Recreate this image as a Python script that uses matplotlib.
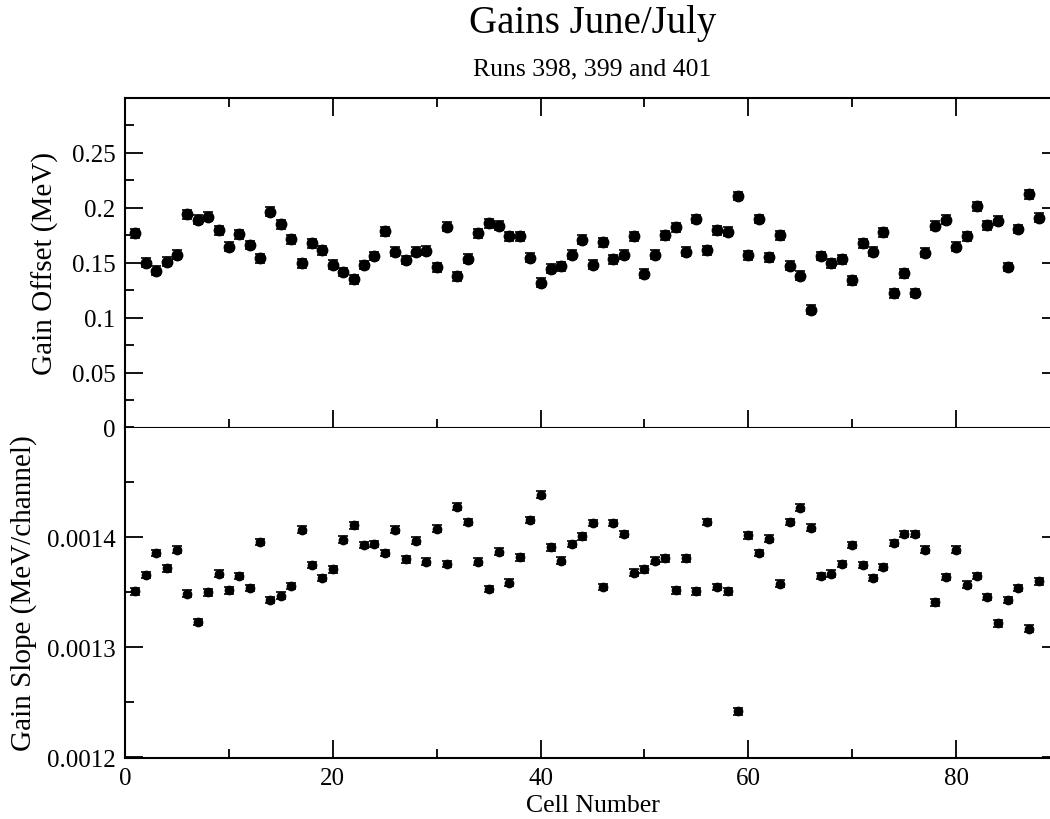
import numpy as np
import matplotlib
matplotlib.use("Agg")
import matplotlib.pyplot as plt
from matplotlib.ticker import MultipleLocator

plt.rcParams['font.family'] = ['Liberation Serif', 'DejaVu Serif']

cells = list(range(1, 89))

gain_offset = [
    0.1767, 0.150, 0.1426, 0.1508, 0.157, 0.194, 0.189, 0.1916, 0.1794, 0.1645,
    0.1758, 0.166, 0.154, 0.1962, 0.1846, 0.171, 0.1493, 0.1673, 0.161, 0.148,
    0.1414, 0.1347, 0.1478, 0.156, 0.1785, 0.160, 0.1523, 0.1597, 0.1606, 0.1457,
    0.1825, 0.1375, 0.1533, 0.1767, 0.1858, 0.1834, 0.1737, 0.1737, 0.1542, 0.1317,
    0.1445, 0.1466, 0.157, 0.1706, 0.148, 0.1682, 0.153, 0.157, 0.1737, 0.140,
    0.157, 0.1746, 0.1819, 0.160, 0.1895, 0.1612, 0.1791, 0.1779, 0.2105, 0.1566,
    0.1895, 0.1548, 0.1749, 0.1472, 0.138, 0.107, 0.156, 0.1493, 0.153, 0.1338,
    0.1676, 0.1597, 0.1773, 0.122, 0.1402, 0.1223, 0.1588, 0.1834, 0.1889, 0.1642,
    0.1737, 0.201, 0.1837, 0.188, 0.146, 0.1804, 0.212, 0.1907,
]

gain_slope = [
    0.001351, 0.001366, 0.001386, 0.001372, 0.001389, 0.001349, 0.001323, 0.001350, 0.001367, 0.001352,
    0.001365, 0.001354, 0.001396, 0.001343, 0.001347, 0.001356, 0.001407, 0.001375, 0.001363, 0.001371,
    0.001398, 0.001411, 0.001393, 0.001394, 0.001386, 0.001407, 0.001380, 0.001397, 0.001378, 0.001408,
    0.001376, 0.001428, 0.001414, 0.001378, 0.001353, 0.001387, 0.001359, 0.001382, 0.001416, 0.001439,
    0.001391, 0.001379, 0.001394, 0.001401, 0.001413, 0.001355, 0.001413, 0.001403, 0.001368, 0.001371,
    0.001379, 0.001381, 0.001352, 0.001381, 0.001351, 0.001414, 0.001355, 0.001351, 0.001242, 0.001402,
    0.001386, 0.001399, 0.001358, 0.001414, 0.001427, 0.001409, 0.001365, 0.001367, 0.001376, 0.001393,
    0.001375, 0.001363, 0.001373, 0.001395, 0.001403, 0.001403, 0.001389, 0.001341, 0.001364, 0.001389,
    0.001357, 0.001365, 0.001346, 0.001322, 0.001343, 0.001354, 0.001317, 0.001360,
]

offset_err = [0.004] * len(cells)
slope_err = [0.000003] * len(cells)

title = "Gains June/July"
subtitle = "Runs 398, 399 and 401"
xlabel = "Cell Number"
ylabel_top = "Gain Offset (MeV)"
ylabel_bot = "Gain Slope (MeV/channel)"

top_ticks = [0, 0.05, 0.1, 0.15, 0.2, 0.25]
top_ticklabels = ["0", "0.05", "0.1", "0.15", "0.2", "0.25"]
bot_ticks = [0.0012, 0.0013, 0.0014]
bot_ticklabels = ["0.0012", "0.0013", "0.0014"]
x_ticks = [0, 20, 40, 60, 80]

W, H = 1050, 820
fig = plt.figure(figsize=(W / 100, H / 100), dpi=100)

left_px, right_px = 125, 1060
ax1 = fig.add_axes([left_px / W, (H - 428.5) / H, (right_px - left_px) / W, 330 / H])
ax2 = fig.add_axes([left_px / W, (H - 758.5) / H, (right_px - left_px) / W, 330 / H])

tick_fs = 18
ylabel_fs = 21

for ax in (ax1, ax2):
    ax.set_xlim(0, 90)
    ax.xaxis.set_major_locator(MultipleLocator(20))
    ax.xaxis.set_minor_locator(MultipleLocator(10))
    for s in ax.spines.values():
        s.set_linewidth(1.5)
    ax.tick_params(which='major', direction='in', length=13, width=1.3,
                   labelsize=tick_fs, pad=7)
    ax.tick_params(which='minor', direction='in', length=6.5, width=1.3)

ax1.errorbar(cells, gain_offset, yerr=offset_err, fmt='o', color='black',
             markersize=7.5, capsize=3.8, elinewidth=1.2, capthick=1.2)
ax1.set_ylim(0, 0.3)
ax1.set_yticks(top_ticks, top_ticklabels)
ax1.yaxis.set_minor_locator(MultipleLocator(0.025))
ax1.tick_params(axis='x', which='both', top=True, bottom=True, labelbottom=False)
ax1.tick_params(axis='y', which='both', left=True, right=True)
ax1.set_ylabel(ylabel_top, fontsize=ylabel_fs, labelpad=9)

ax2.errorbar(cells, gain_slope, yerr=slope_err, fmt='o', color='black',
             markersize=6, capsize=3.5, elinewidth=1.2, capthick=1.2)
ax2.set_ylim(0.0012, 0.0015)
ax2.set_yticks(bot_ticks, bot_ticklabels)
ax2.yaxis.set_minor_locator(MultipleLocator(0.00005))
ax2.set_xticks(x_ticks, [str(v) for v in x_ticks])
ax2.tick_params(axis='x', which='both', top=False, bottom=True)
ax2.tick_params(axis='y', which='both', left=True, right=True)
ax2.set_ylabel(ylabel_bot, fontsize=ylabel_fs, labelpad=7)
ax2.set_xlabel(xlabel, fontsize=18.5, labelpad=3.5)
ax2.spines['top'].set_visible(False)

cx = (left_px + right_px) / 2 / W
fig.text(cx, (H - 33) / H, title, fontsize=28, ha='center', va='baseline')
fig.text(cx, (H - 75) / H, subtitle, fontsize=18.5, ha='center', va='baseline')

fig.savefig("out.png", dpi=100)
